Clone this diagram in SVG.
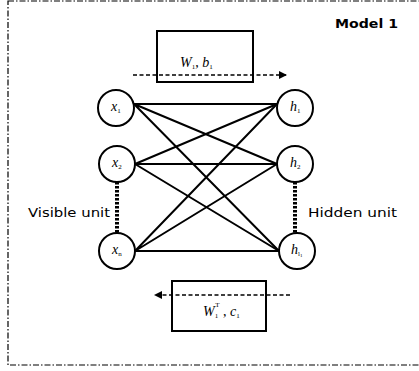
<svg xmlns="http://www.w3.org/2000/svg" width="419" height="371" viewBox="0 0 419 371">
  <style>
    .frame { fill: none; stroke: #000; stroke-width: 1.2; stroke-dasharray: 6 2 1.5 2; }
    .unit { fill: #fff; stroke: #000; stroke-width: 2; }
    .box { fill: none; stroke: #000; stroke-width: 2; }
    .edge { stroke: #000; stroke-width: 2; fill: none; }
    .flow { stroke: #000; stroke-width: 1.5; stroke-dasharray: 4 2.5; fill: none; }
    .ellipsis { stroke: #000; stroke-width: 4; stroke-dasharray: 2.5 1.5; fill: none; }
    .math { font-family: "Liberation Serif", serif; font-style: italic; font-size: 14px; }
    .sub { font-family: "Liberation Serif", serif; font-size: 7px; font-style: normal; }
    .label { font-family: "DejaVu Sans", sans-serif; font-size: 13px; }
    .title { font-family: "DejaVu Sans", sans-serif; font-size: 13px; font-weight: bold; }
  </style>
  <defs>
    <marker id="head" markerWidth="8" markerHeight="8" refX="7" refY="4" orient="auto" markerUnits="userSpaceOnUse">
      <path d="M0,0 L8,4 L0,8 Z" fill="#000"/>
    </marker>
  </defs>

  <rect x="0" y="0" width="419" height="371" fill="#fff"/>
  <rect class="frame" x="8" y="1" width="420" height="364"/>
  <text class="title" x="335" y="28" textLength="63" lengthAdjust="spacingAndGlyphs">Model 1</text>

  <!-- weight blocks -->
  <g id="forward">
    <rect class="box" x="157" y="31" width="96" height="51"/>
    <text class="math" x="180" y="67">W<tspan class="sub" dy="2">1</tspan><tspan dy="-2" font-style="normal">, </tspan>b<tspan class="sub" dy="2">1</tspan></text>
  </g>
  <g id="backward">
    <rect class="box" x="172" y="281" width="94" height="50"/>
    <text class="math" x="203" y="316">W<tspan class="sub" dy="2">1</tspan><tspan class="sub" font-style="italic" dx="-3" dy="-11">T</tspan><tspan dy="9" font-style="normal"> , </tspan>c<tspan class="sub" dy="2">1</tspan></text>
  </g>

  <!-- connectors -->
  <g id="connectors">
    <path class="flow" d="M133,75 H286" marker-end="url(#head)"/>
    <path class="flow" d="M290,295 H155" marker-end="url(#head)"/>
    <path class="edge" d="M134,104 L277,104 M134,104 L277,164 M134,104 L279,251"/>
    <path class="edge" d="M135,164 L277,104 M135,164 L277,164 M135,164 L279,251"/>
    <path class="edge" d="M135,251 L277,104 M135,251 L277,164 M135,251 L279,251"/>
    <path class="ellipsis" d="M117,182 V233"/>
    <path class="ellipsis" d="M295,182 V233"/>
  </g>

  <!-- visible units -->
  <g id="x1">
    <circle class="unit" cx="116" cy="108" r="18"/>
    <text class="math" x="111" y="111">x<tspan class="sub" dy="2">1</tspan></text>
  </g>
  <g id="x2">
    <circle class="unit" cx="117" cy="164" r="18"/>
    <text class="math" x="112" y="167">x<tspan class="sub" dy="2">2</tspan></text>
  </g>
  <g id="xn">
    <circle class="unit" cx="117" cy="251" r="18"/>
    <text class="math" x="112" y="254">x<tspan class="sub" font-style="italic" dy="2">n</tspan></text>
  </g>

  <!-- hidden units -->
  <g id="h1">
    <circle class="unit" cx="295" cy="108" r="18"/>
    <text class="math" x="290" y="111">h<tspan class="sub" dy="2">1</tspan></text>
  </g>
  <g id="h2">
    <circle class="unit" cx="295" cy="164" r="18"/>
    <text class="math" x="290" y="167">h<tspan class="sub" dy="2">2</tspan></text>
  </g>
  <g id="hl">
    <circle class="unit" cx="297" cy="251" r="18"/>
    <text class="math" x="291" y="254">h<tspan class="sub" font-style="italic" dy="2">l<tspan font-size="5" dy="1" font-style="normal">1</tspan></tspan></text>
  </g>

  <text class="label" x="28" y="217" textLength="82" lengthAdjust="spacingAndGlyphs">Visible unit</text>
  <text class="label" x="308" y="217" textLength="89" lengthAdjust="spacingAndGlyphs">Hidden unit</text>
</svg>
